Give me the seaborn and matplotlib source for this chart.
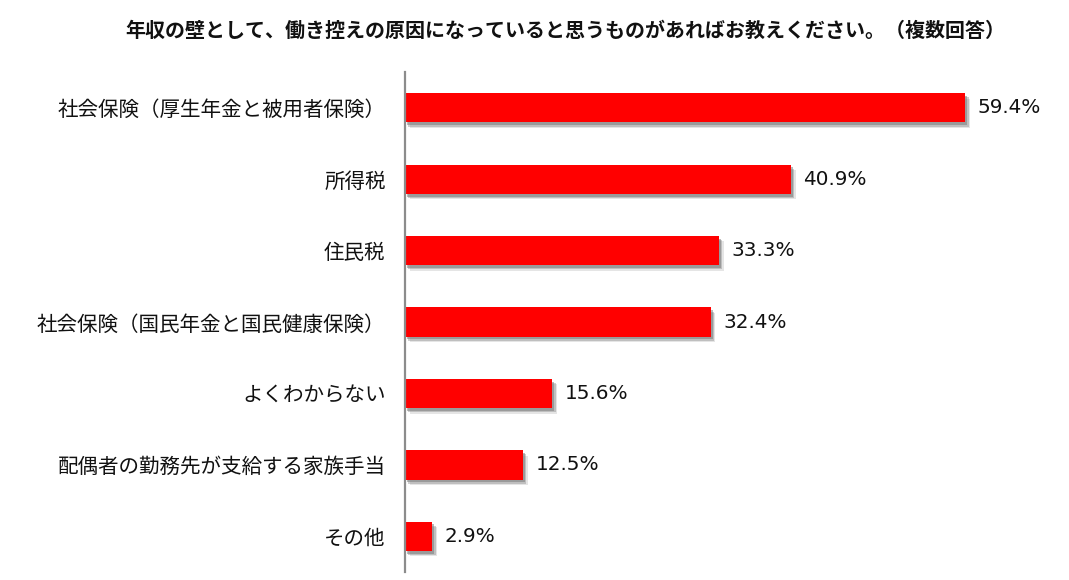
import matplotlib
matplotlib.use("Agg")
import matplotlib.pyplot as plt
import matplotlib.patheffects as pe
import seaborn as sns
import pandas as pd

# Data
categories = [
    "社会保険（厚生年金と被用者保険）",
    "所得税",
    "住民税",
    "社会保険（国民年金と国民健康保険）",
    "よくわからない",
    "配偶者の勤務先が支給する家族手当",
    "その他",
]
percent = [59.4, 40.9, 33.3, 32.4, 15.6, 12.5, 2.9]
title = "年収の壁として、働き控えの原因になっていると思うものがあればお教えください。（複数回答）"

df = pd.DataFrame({"item": categories, "pct": percent})

sns.set_style("white")
plt.rcParams["font.family"] = ["Noto Sans CJK JP", "DejaVu Sans"]

fig = plt.figure(figsize=(10.69, 5.8), dpi=100)
ax = fig.add_axes([405 / 1069, 8 / 580, 655 / 1069, 500 / 580])

sns.barplot(data=df, x="pct", y="item", orient="h", color="#ff0000",
            saturation=1, width=0.41, ax=ax)

# soft drop shadow, layered to fake a blur
shadow = [
    pe.SimplePatchShadow(offset=(3.5, -4), shadow_rgbFace="#999999", alpha=0.25),
    pe.SimplePatchShadow(offset=(2.5, -3), shadow_rgbFace="#888888", alpha=0.4),
    pe.SimplePatchShadow(offset=(1.5, -2), shadow_rgbFace="#777777", alpha=0.5),
    pe.Normal(),
]
for bar in ax.patches:
    bar.set_path_effects(shadow)
    bar.set_linewidth(0)

for i, v in enumerate(percent):
    ax.annotate(f"{v}%", xy=(v, i), xytext=(9, 0), textcoords="offset points",
                va="center", ha="left", fontsize=14.4, family="DejaVu Sans", color="#111111")

ax.set_xlim(0, 655 / 9.43)
ax.set_ylim(6.5, -0.5)
ax.set_xlabel("")
ax.set_ylabel("")
ax.set_xticks([])
ax.tick_params(axis="y", length=0, pad=14, labelsize=14.8, labelcolor="#111111")
for s in ["top", "right", "bottom"]:
    ax.spines[s].set_visible(False)
ax.spines["left"].set_color("#8c8c8c")
ax.spines["left"].set_linewidth(1.6)

fig.text(565 / 1069, 1 - 30 / 580, title, ha="center", va="center",
         fontsize=14.4, fontweight="bold", color="#111111")

fig.savefig("out.png", dpi=100)
